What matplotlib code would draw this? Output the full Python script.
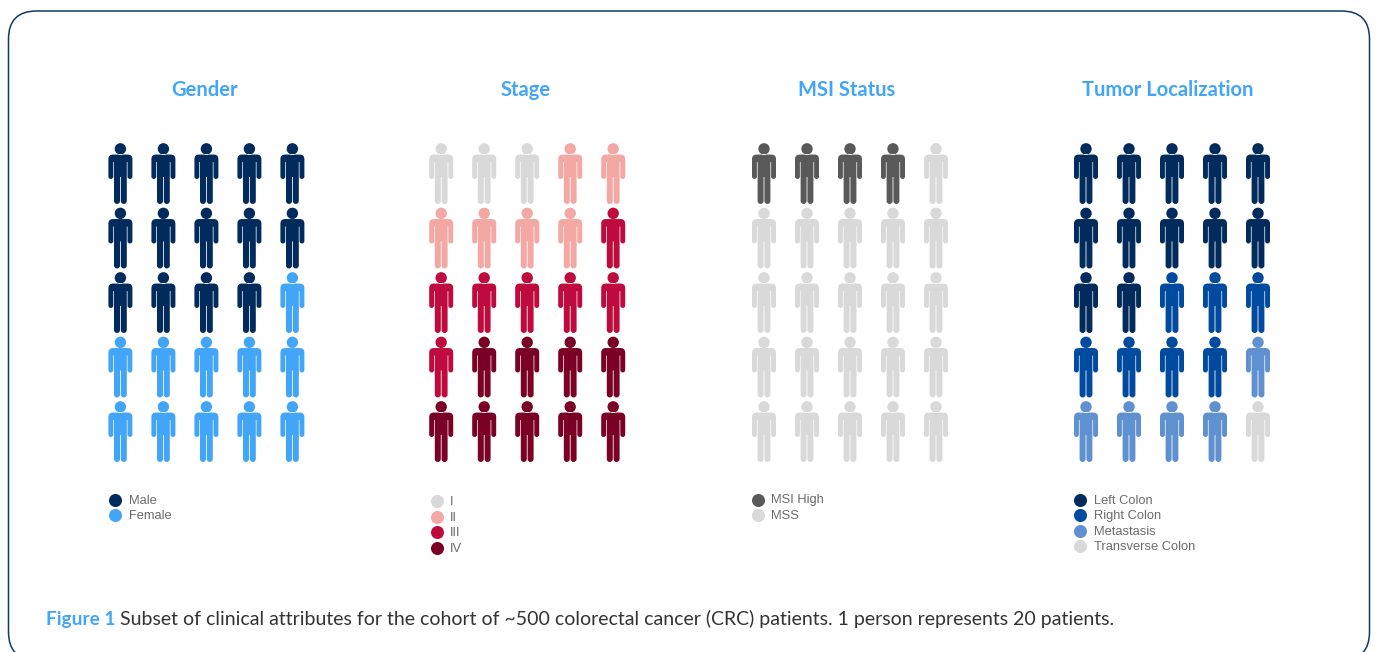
import numpy as np
import matplotlib
matplotlib.use("Agg")
import matplotlib.pyplot as plt
from matplotlib.patches import FancyBboxPatch
from matplotlib.path import Path

# one person = 20 patients, counts are persons per category
gender_labels = ["Male", "Female"]
gender_counts = [14, 11]
gender_colors = ["#002b5c", "#42a5f8"]

stage_labels = ["I", "II", "III", "IV"]
stage_counts = [3, 6, 7, 9]
stage_colors = ["#d9d9d9", "#f4a8a3", "#bf0a3e", "#7a0026"]

msi_labels = ["MSI High", "MSS"]
msi_counts = [4, 21]
msi_colors = ["#595959", "#d9d9d9"]

tumor_labels = ["Left Colon", "Right Colon", "Metastasis", "Transverse Colon"]
tumor_counts = [12, 7, 5, 1]
tumor_colors = ["#002b5c", "#004a9f", "#5f90cf", "#d9d9d9"]

W, H = 1377, 652
CELL_W, CELL_H = 43, 64.5
TOP = 141.3


def person_marker():
    # right half of the body, then mirrored. y is up, centre of the figure at 0
    half = [
        (Path.MOVETO, [(0, 19.0)]),
        (Path.LINETO, [(7.4, 19.0)]),
        (Path.CURVE3, [(12.0, 19.0), (12.0, 14.4)]),
        (Path.LINETO, [(12.0, -3.0)]),
        (Path.CURVE3, [(12.0, -5.4), (9.6, -5.4)]),
        (Path.CURVE3, [(7.1, -5.4), (7.1, -3.0)]),
        (Path.LINETO, [(7.1, 11.5)]),
        (Path.LINETO, [(6.4, 11.5)]),
        (Path.LINETO, [(6.4, -27.4)]),
        (Path.CURVE3, [(6.4, -30.4), (3.4, -30.4)]),
        (Path.CURVE3, [(0.4, -30.4), (0.4, -27.4)]),
        (Path.LINETO, [(0.4, -3.4)]),
        (Path.LINETO, [(0, -3.4)]),
    ]
    verts, codes = [], []
    for code, pts in half:
        verts += pts
        codes += [code] * len(pts)
    # walk back up the left side with the control points reversed
    back_v = [(-x, y) for x, y in verts[::-1][1:]]
    rev = codes[::-1]
    back_c = [Path.LINETO if c == Path.MOVETO else c for c in rev[:-1]]
    body = Path(verts + back_v + [(0, 19.0)],
                codes + back_c + [Path.CLOSEPOLY])
    head = Path.circle((0, 24.7), 5.7)
    return Path.make_compound_path(head, body)


fig = plt.figure(figsize=(W / 100, H / 100), dpi=100)
bg = fig.add_axes([0, 0, 1, 1])
bg.set_xlim(0, W)
bg.set_ylim(H, 0)
bg.axis("off")

bg.add_patch(FancyBboxPatch((8.5, 11), 1361, 649,
                            boxstyle="round,pad=0,rounding_size=28",
                            fc="white", ec="#0f3a66", lw=1.1))

marker = person_marker()


def draw_panel(title, labels, counts, colors, center, title_x, leg_x, leg_y):
    left = center - 2.5 * CELL_W
    ax = fig.add_axes([left / W, 1 - (TOP + 5 * CELL_H) / H,
                       5 * CELL_W / W, 5 * CELL_H / H])
    ax.set_xlim(-0.5, 4.5)
    ax.set_ylim(4.5, -0.5)
    ax.axis("off")
    ax.patch.set_alpha(0)

    person_colors = np.repeat(colors, counts)
    rows, cols = np.divmod(np.arange(len(person_colors)), 5)
    ax.scatter(cols, rows, s=1916, c=list(person_colors), marker=marker,
               linewidths=0, clip_on=False)

    bg.text(title_x, 90.5, title, color="#42a5f8", fontsize=14.5,
            fontweight="bold", family="Lato", ha="center", va="center")

    for i, lab in enumerate(labels):
        y = leg_y + i * 15.5
        bg.scatter([leg_x], [y], s=88, color=colors[i], linewidths=0)
        bg.text(leg_x + 13.6, y + 1, lab, color="#6b6b6b", fontsize=9.3,
                family="Liberation Sans", ha="left", va="center")


draw_panel("Gender", gender_labels, gender_counts, gender_colors, 206.4, 205, 115.2, 499.5)
draw_panel("Stage", stage_labels, stage_counts, stage_colors, 527.2, 526, 436.5, 501.3)
draw_panel("MSI Status", msi_labels, msi_counts, msi_colors, 850, 847, 757.5, 499.5)
draw_panel("Tumor Localization", tumor_labels, tumor_counts, tumor_colors, 1172, 1168, 1080.3, 499.8)

bg.set_xlim(0, W)
bg.set_ylim(H, 0)

bg.text(46, 619, "Figure 1", color="#42a5f8", fontsize=13.7, fontweight="bold",
        family="Lato", ha="left", va="center")
bg.text(120.5, 619, "Subset of clinical attributes for the cohort of ~500 colorectal "
        "cancer (CRC) patients. 1 person represents 20 patients.",
        color="#333333", fontsize=14.05, family="Lato", ha="left", va="center")

fig.savefig("out.png", dpi=100)
